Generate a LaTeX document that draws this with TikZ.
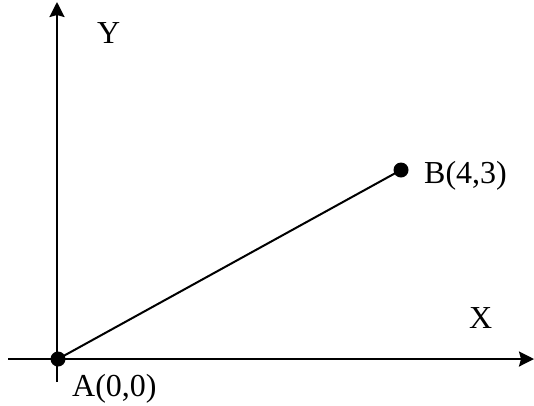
\documentclass[tikz,border=0pt]{standalone}
\usepackage{fontspec}
\setmainfont{Liberation Serif}
\usetikzlibrary{arrows.meta}
\begin{document}
\begin{tikzpicture}[x=1pt,y=-1pt,
  axis/.style={line width=2.3pt,-{Stealth[length=15pt,width=15pt,inset=2pt]}},
  seg/.style={line width=2pt},
  pt/.style={circle,fill=black,inner sep=0pt,minimum size=15pt},
  lbl/.style={font=\fontsize{32}{35}\selectfont,inner sep=0pt,anchor=base west}]
\useasboundingbox (0,0) rectangle (534,405);
\coordinate (xs) at (8,359);
\coordinate (xe) at (534,359);
\coordinate (ys) at (57,382);
\coordinate (ye) at (57,2);
\draw[axis] (xs) -- (xe);
\draw[axis] (ys) -- (ye);
\node[pt] (A) at (58,359) {};
\node[pt] (B) at (401,170) {};
\draw[seg] (A.center) -- (B.center);
\node[lbl] (la) at (72,396) {A(0,0)};
\node[lbl] (lb) at (424,183) {B(4,3)};
\node[lbl] (ly) at (97,43) {Y};
\node[lbl] (lx) at (469,328) {X};
\end{tikzpicture}
\end{document}
